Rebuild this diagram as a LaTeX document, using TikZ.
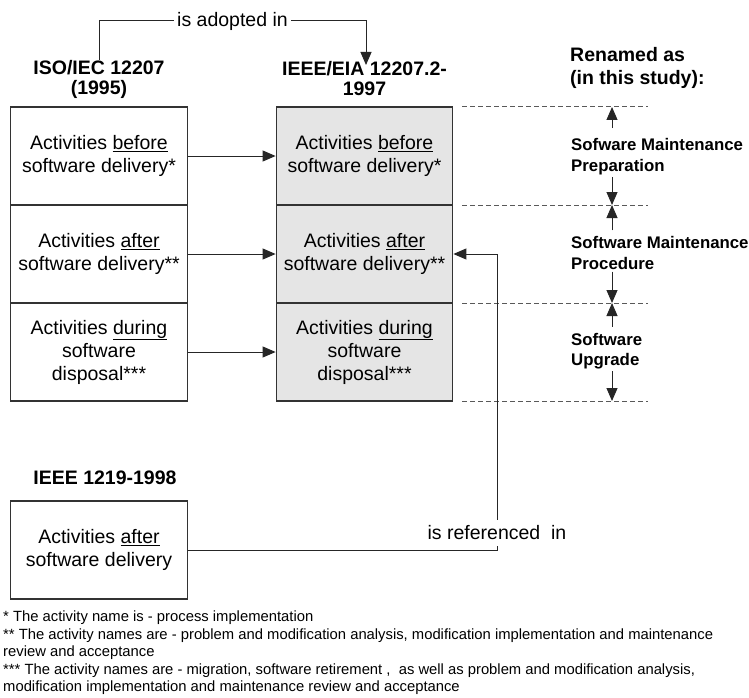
\documentclass[tikz,border=0pt]{standalone}
\usepackage{fontspec}
\setmainfont{Liberation Sans}
\usetikzlibrary{arrows.meta,calc}
\usepackage{xcolor}

\begin{document}
\begin{tikzpicture}[
    x=1pt, y=-1pt,
    boxfont/.style={font=\fontsize{19.5}{23}\selectfont},
    actbox/.style={draw=black!80, line width=1.3pt, minimum width=176.5pt, minimum height=98pt, align=center, inner sep=0pt, boxfont},
    newbox/.style={actbox, fill=black!10},
    header/.style={font=\fontsize{19.5}{20}\selectfont\bfseries, align=center, inner sep=0pt},
    rename/.style={font=\fontsize{16.8}{20.5}\selectfont\bfseries, align=left, inner sep=2pt, anchor=west},
    conn/.style={draw=black!85, line width=1pt, -{Triangle[length=13pt,width=11pt]}},
    divline/.style={draw=black!65, line width=1pt, dash pattern=on 5pt off 3pt}
]
    % page size of the reference
    \fill[white] (0,0) rectangle (749,698);
    \useasboundingbox (0,0) rectangle (749,698);

    % Define row dimensions
    \def\rowtop{107};
    \def\rowheight{98};

    % Standards on top
    \node[header] (isohdr) at (99,79) {ISO/IEC 12207\\(1995)};
    \node[header] (eiahdr) at (364.5,79) {IEEE/EIA 12207.2-\\1997};
    \node[header, align=left, anchor=west, font=\fontsize{19.5}{23}\selectfont\bfseries] (renhdr) at (570,68) {Renamed as\\(in this study):};

    % Activity boxes, old and adopted
    \foreach \i/\txt in {1/{Activities \underline{before}\\software delivery*},
                         2/{Activities \underline{after}\\software delivery**},
                         3/{Activities \underline{during}\\software\\disposal***}} {
        \pgfmathsetmacro{\rowy}{\rowtop+(\i-0.5)*\rowheight}
        \node[actbox] (old\i) at (99,\rowy) {\txt};
        \node[newbox] (new\i) at (364.5,\rowy) {\txt};
        \draw[conn] (old\i) -- (new\i);
    }

    % is adopted in
    \coordinate (adopttop) at (0,21);
    \coordinate (adopttip) at (366,65);
    \draw[conn] (isohdr.north) -- (isohdr.north |- adopttop) -| node[pos=0.25, fill=white, inner sep=3pt, boxfont] (adopted) {is adopted in} (adopttip);

    % Dashed borders of the renamed parts
    \foreach \i in {0,...,3} {
        \pgfmathsetmacro{\liney}{\rowtop+\i*\rowheight}
        \draw[divline] (462,\liney) -- (648,\liney);
        \coordinate (mark\i) at (612,\liney);
    }
    \node[rename] (prep) at (569,156.5) {Sofware Maintenance\\Preparation};
    \node[rename] (proc) at (569,253) {Software Maintenance\\Procedure};
    \node[rename] (upgr) at (569,351) {Software\\Upgrade};
    \draw[conn] ($(prep.north -| mark0)+(0,-8)$) -- (mark0);
    \draw[conn] (prep.south -| mark1) -- (mark1);
    \draw[conn] ($(proc.north -| mark1)+(0,-4)$) -- (mark1);
    \draw[conn] (proc.south -| mark2) -- (mark2);
    \draw[conn] ($(upgr.north -| mark2)+(0,-4)$) -- (mark2);
    \draw[conn] (upgr.south -| mark3) -- (mark3);

    % IEEE 1219
    \node[header] (oldhdr) at (105,478) {IEEE 1219-1998};
    \node[actbox] (ieee) at (99,550) {Activities \underline{after}\\software delivery};

    % is referenced in
    \coordinate (refbend) at (497,0);
    \draw[conn] (ieee.east) -| (refbend |- new2.east) -- (new2.east);
    \node[boxfont, fill=white, inner xsep=3pt, inner ysep=6pt] (referenced) at (497,533) {is referenced \ in};

    % Notes
    \node[anchor=north west, align=left, inner sep=0pt, font=\fontsize{14.8}{17.4}\selectfont] (notes) at (3,611) {* The activity name is - process implementation\\{}** The activity names are - problem and modification analysis, modification implementation and maintenance\\review and acceptance\\{}*** The activity names are - migration, software retirement , \ as well as problem and modification analysis,\\modification implementation and maintenance review and acceptance};
\end{tikzpicture}
\end{document}
